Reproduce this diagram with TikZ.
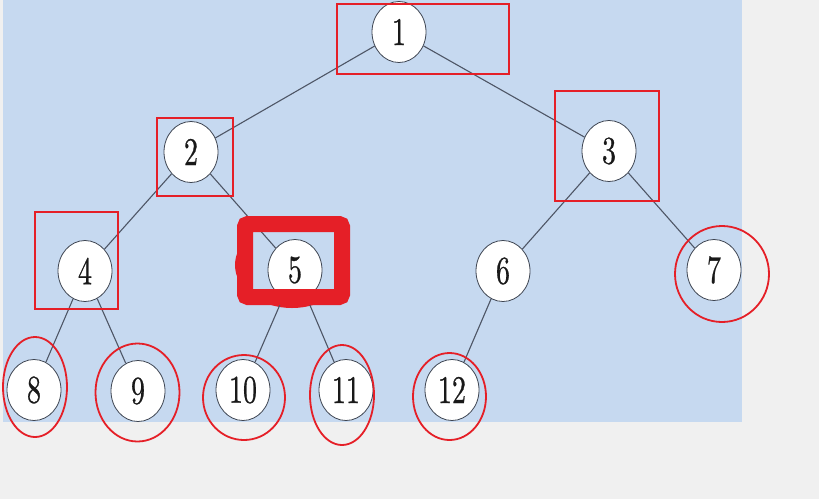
\documentclass[tikz,border=0pt]{standalone}
\usepackage{graphicx}
\usepackage{fontspec}
\newfontfamily\numfont[Extension=.otf, FakeBold=0.8]{lmroman10-regular}
\usetikzlibrary{shapes.geometric}
\definecolor{bgout}{HTML}{F0F0F0}
\definecolor{bgblue}{HTML}{C6D9F0}
\definecolor{edgecol}{HTML}{4E5666}
\definecolor{markred}{HTML}{E51F27}
\begin{document}
\begin{tikzpicture}[x=1pt,y=-1pt,
  tn/.style={ellipse, draw=edgecol!80!black, line width=0.8pt, fill=white,
    minimum width=54pt, minimum height=61pt, inner sep=0pt,
    font=\numfont\fontsize{28}{30}\selectfont, text=black!90},
  edge/.style={draw=edgecol, line width=1.1pt},
  redbox/.style={draw=markred, line width=2pt},
  redring/.style={draw=markred, line width=1.8pt},
  heavybox/.style={draw=markred, line width=16pt, rounded corners=3pt}]
\useasboundingbox (0,0) rectangle (819,499);
\fill[bgout] (0,0) rectangle (819,499);
\fill[bgblue] (3,0) rectangle (742,422);
% partly hidden ring around 5 (only its rim outside the heavy box shows)
\draw[draw=markred, line width=6pt] (292,265) ellipse [x radius=54, y radius=40];
\fill[bgblue] (253,232) rectangle (334,289);
% nodes
\node[tn] (n1) at (399,32) {\scalebox{1}[1.4]{1}};
\node[tn] (n2) at (191,152) {\scalebox{1}[1.4]{2}};
\node[tn] (n3) at (609,151) {\scalebox{1}[1.4]{3}};
\node[tn] (n4) at (85,271) {\scalebox{1}[1.4]{4}};
\node[tn] (n5) at (295,270) {\scalebox{1}[1.4]{5}};
\node[tn] (n6) at (503,271) {\scalebox{1}[1.4]{6}};
\node[tn] (n7) at (714,270) {\scalebox{1}[1.4]{7}};
\node[tn] (n8) at (34,390) {\scalebox{1}[1.4]{8}};
\node[tn] (n9) at (138,391) {\scalebox{1}[1.4]{9}};
\node[tn] (n10) at (243,390) {\scalebox{1}[1.4]{10}};
\node[tn] (n11) at (346,390) {\scalebox{1}[1.4]{11}};
\node[tn] (n12) at (452,390) {\scalebox{1}[1.4]{12}};
% edges
\draw[edge] (n1) -- (n2);
\draw[edge] (n1) -- (n3);
\draw[edge] (n2) -- (n4);
\draw[edge] (n2) -- (n5);
\draw[edge] (n3) -- (n6);
\draw[edge] (n3) -- (n7);
\draw[edge] (n4) -- (n8);
\draw[edge] (n4) -- (n9);
\draw[edge] (n5) -- (n10);
\draw[edge] (n5) -- (n11);
\draw[edge] (n6) -- (n12);
% red annotations
\draw[redbox] (337,4) rectangle (509,74);
\draw[redbox] (157,118) rectangle (233,196);
\draw[redbox] (555,91) rectangle (659,201);
\draw[redbox] (35,212) rectangle (118,309);
\draw[heavybox] (245,224) rectangle (342,297);
\draw[redring] (722,274) ellipse [x radius=47, y radius=48];
\draw[redring] (35,387) ellipse [x radius=32, y radius=50];
\draw[redring] (137.5,392.5) ellipse [x radius=42, y radius=49];
\draw[redring] (244,397.5) ellipse [x radius=41, y radius=42.5];
\draw[redring] (342,395) ellipse [x radius=32, y radius=50];
\draw[redring] (449.5,396.5) ellipse [x radius=36.5, y radius=43.5];
\end{tikzpicture}
\end{document}
